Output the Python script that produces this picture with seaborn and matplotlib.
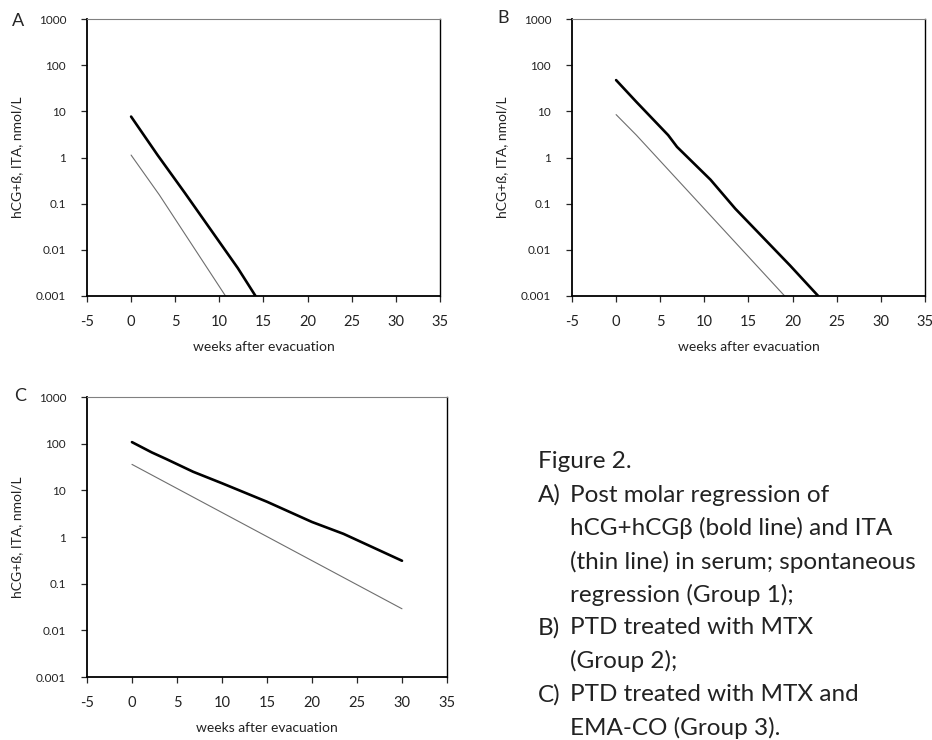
"""
Post molar regression of hCG+hCGbeta and ITA (Figure 2, panels A-C).
"""

import pandas as pd
import matplotlib
matplotlib.use('Agg')
import matplotlib.pyplot as plt
import matplotlib.ticker as mticker
import seaborn as sns

sns.set_style('ticks')
plt.rcParams['font.family'] = ['Lato', 'DejaVu Sans']
plt.rcParams['axes.unicode_minus'] = False

# ── data (weeks, nmol/L) ─────────────────────────────────────────────────────
a_bold_x = [0, 3.0, 6.1, 12.1, 14.1]
a_bold_y = [7.7, 1.13, 0.17, 0.004, 0.001]
a_thin_x = [0, 3.2, 10.7]
a_thin_y = [1.13, 0.155, 0.001]

b_bold_x = [0, 2.3, 5.9, 6.9, 10.7, 13.5, 19.7, 22.9]
b_bold_y = [47.5, 16, 3.05, 1.7, 0.33, 0.078, 0.0046, 0.001]
b_thin_x = [0, 2.3, 19.1]
b_thin_y = [8.5, 3.05, 0.001]

c_bold_x = [0, 2.2, 3.8, 6.8, 10.0, 15.0, 20.0, 23.5, 30.0]
c_bold_y = [108, 65, 47, 25, 14.2, 5.7, 2.1, 1.17, 0.31]
c_thin_x = [0, 30.0]
c_thin_y = [36, 0.029]

Y_TICKS = [0.001, 0.01, 0.1, 1, 10, 100, 1000]
X_TICKS = [-5, 0, 5, 10, 15, 20, 25, 30, 35]

CAPTION = [
    ('', 'Figure 2.'),
    ('A)', 'Post molar regression of'),
    ('', 'hCG+hCG\u03b2 (bold line) and ITA'),
    ('', '(thin line) in serum; spontaneous'),
    ('', 'regression (Group 1);'),
    ('B)', 'PTD treated with MTX'),
    ('', '(Group 2);'),
    ('C)', 'PTD treated with MTX and'),
    ('', 'EMA-CO (Group 3).'),
]


def make_frame(bx, by, tx, ty):
    return pd.concat([
        pd.DataFrame({'week': bx, 'value': by, 'series': 'bold'}),
        pd.DataFrame({'week': tx, 'value': ty, 'series': 'thin'}),
    ], ignore_index=True)


def draw_panel(ax, df):
    sns.lineplot(data=df[df['series'] == 'bold'], x='week', y='value',
                 ax=ax, color='black', linewidth=1.9, sort=False, legend=False)
    sns.lineplot(data=df[df['series'] == 'thin'], x='week', y='value',
                 ax=ax, color='#6e6e6e', linewidth=0.8, sort=False, legend=False)
    ax.set_yscale('log')
    ax.set_ylim(0.001, 1000)
    ax.set_xlim(-5, 35)
    ax.set_yticks(Y_TICKS)
    ax.yaxis.set_major_formatter(mticker.FuncFormatter(lambda v, _: f'{v:g}'))
    ax.yaxis.set_minor_locator(mticker.NullLocator())
    ax.set_xticks(X_TICKS)
    ax.tick_params(axis='y', labelsize=8.5, length=4, width=0.9, pad=11, labelcolor='#222222')
    ax.tick_params(axis='x', labelsize=10.5, length=4, width=0.9, pad=10, labelcolor='#222222')
    ax.set_xlabel('weeks after evacuation', fontsize=10, labelpad=8, color='#222222')
    ax.set_ylabel('hCG+ß, ITA, nmol/L', fontsize=10, labelpad=9, color='#222222')
    for side in ['left', 'bottom']:
        ax.spines[side].set_linewidth(1.3)
        ax.spines[side].set_color('black')
    ax.spines['right'].set_linewidth(1.0)
    ax.spines['right'].set_color('black')
    ax.spines['top'].set_linewidth(0.8)
    ax.spines['top'].set_color('#808080')
    ax.grid(False)


fig = plt.figure(figsize=(9.32, 7.40), dpi=100)

ax_a = fig.add_axes([0.0933, 0.600, 0.3788, 0.3743])
ax_b = fig.add_axes([0.6137, 0.600, 0.3788, 0.3743])
ax_c = fig.add_axes([0.0933, 0.0851, 0.3863, 0.3784])

draw_panel(ax_a, make_frame(a_bold_x, a_bold_y, a_thin_x, a_thin_y))
draw_panel(ax_b, make_frame(b_bold_x, b_bold_y, b_thin_x, b_thin_y))
draw_panel(ax_c, make_frame(c_bold_x, c_bold_y, c_thin_x, c_thin_y))

# panel letters
fig.text(18 / 932, 1 - 21 / 740, 'A', fontsize=13, ha='center', va='center')
fig.text(503 / 932, 1 - 18 / 740, 'B', fontsize=13, ha='center', va='center')
fig.text(20 / 932, 1 - 396 / 740, 'C', fontsize=13, ha='center', va='center')

# caption block
y0 = 462
for i, (tag, line) in enumerate(CAPTION):
    y = 1 - (y0 + i * 33.2) / 740
    if tag:
        fig.text(538 / 932, y, tag, fontsize=17.5, ha='left', va='center', color='#222222')
    x = 538 if (i == 0) else 570
    fig.text(x / 932, y, line, fontsize=17.5, ha='left', va='center', color='#222222')

plt.savefig('out.png', dpi=100)
plt.close()
